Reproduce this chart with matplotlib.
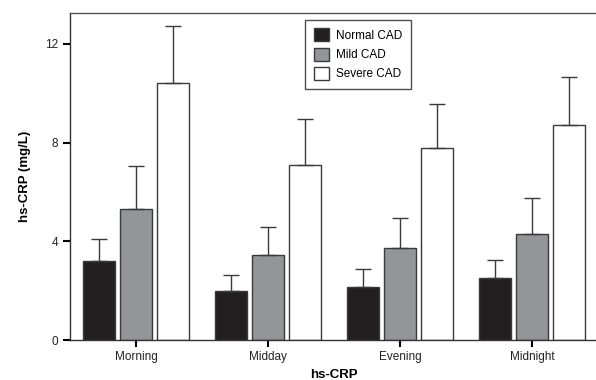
import matplotlib
matplotlib.use("Agg")
import matplotlib.pyplot as plt
import numpy as np

plt.rcParams['font.family'] = ['Liberation Sans', 'DejaVu Sans']

times = ["Morning", "Midday", "Evening", "Midnight"]
groups = ["Normal CAD", "Mild CAD", "Severe CAD"]
means = [
    [3.19, 1.99, 2.16, 2.50],
    [5.30, 3.43, 3.72, 4.28],
    [10.40, 7.09, 7.78, 8.70],
]
errs = [
    [0.89, 0.64, 0.73, 0.73],
    [1.77, 1.16, 1.23, 1.49],
    [2.33, 1.87, 1.79, 1.97],
]
colors = ["#231f20", "#939598", "#ffffff"]

fig = plt.figure(figsize=(5.96, 3.8), dpi=100)
ax = fig.add_axes([0.1174, 0.105, 0.886, 0.861])

x = np.arange(len(times))
width = 0.242
step = 0.283
for i in range(3):
    pos = x + (i - 1) * step
    ax.bar(pos, means[i], width, color=colors[i], edgecolor="#3a3a3a",
           linewidth=1.0, label=groups[i], zorder=2)
    ax.errorbar(pos, means[i], yerr=[np.zeros(4), errs[i]], fmt="none",
                ecolor="#3a3a3a", elinewidth=1.0, capsize=6, capthick=1.0,
                zorder=3)

ax.set_xlim(-0.5, 3.5)
ax.set_ylim(0, 13.25)
ax.set_yticks([0, 4, 8, 12])
ax.set_xticks(x)
ax.set_xticklabels(times)
ax.tick_params(axis="both", direction="out", length=5, width=1.5,
               color="black", labelsize=8.5, labelcolor="#222222")
ax.tick_params(axis="x", pad=3)
for s in ["left", "bottom", "top", "right"]:
    ax.spines[s].set_color("#555555")
    ax.spines[s].set_linewidth(1.0)
ax.spines["left"].set_color("#333333")
ax.spines["bottom"].set_color("#333333")

ax.set_ylabel("hs-CRP (mg/L)", fontsize=9.5, fontweight="bold", labelpad=10)
ax.set_xlabel("hs-CRP", fontsize=9.5, fontweight="bold", labelpad=4)

leg = ax.legend(loc="upper left", bbox_to_anchor=(0.446, 0.978), fontsize=8.5,
                frameon=True, fancybox=False, edgecolor="#222222",
                handlelength=1.3, handleheight=1.3, borderpad=0.7,
                labelspacing=0.5, handletextpad=0.6, borderaxespad=0)
leg.get_frame().set_linewidth(1.0)

fig.savefig("out.png", dpi=100)
